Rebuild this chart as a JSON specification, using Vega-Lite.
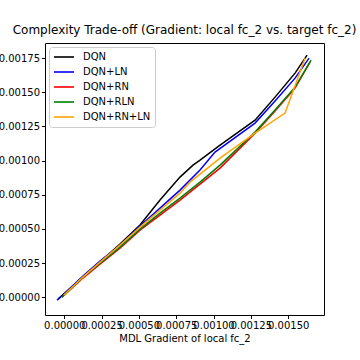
{
  "$schema": "https://vega.github.io/schema/vega-lite/v6.json",
  "width": 279,
  "height": 272,
  "autosize": {"type": "none"},
  "padding": {"left": 45, "top": 43, "right": 36, "bottom": 45},
  "background": "white",
  "title": {"text": "Complexity Trade-off (Gradient: local fc_2 vs. target fc_2)", "font": "DejaVu Sans", "fontSize": 12, "fontWeight": "normal", "color": "black", "offset": 6, "anchor": "middle"},
  "config": {
    "view": {"stroke": "black", "strokeWidth": 1},
    "axis": {"grid": false, "domain": false, "tickColor": "black", "tickSize": 3.5, "labelFont": "DejaVu Sans", "labelFontSize": 10, "labelColor": "black", "titleFont": "DejaVu Sans", "titleFontSize": 10, "titleFontWeight": "normal", "titleColor": "black", "labelPadding": 2, "labelOverlap": false, "labelFlush": false}
  },
  "data": {"values": [
    {"s": "DQN", "x": -0.0000422, "y": -0.0000124},
    {"s": "DQN", "x": 0.0001253, "y": 0.0001484},
    {"s": "DQN", "x": 0.0002393, "y": 0.000258},
    {"s": "DQN", "x": 0.0003733, "y": 0.0003896},
    {"s": "DQN", "x": 0.0005073, "y": 0.0005285},
    {"s": "DQN", "x": 0.0006414, "y": 0.0007113},
    {"s": "DQN", "x": 0.0007754, "y": 0.0008794},
    {"s": "DQN", "x": 0.0008625, "y": 0.0009671},
    {"s": "DQN", "x": 0.0009095, "y": 0.0010037},
    {"s": "DQN", "x": 0.0010435, "y": 0.0011133},
    {"s": "DQN", "x": 0.0012781, "y": 0.001296},
    {"s": "DQN", "x": 0.0014121, "y": 0.0014642},
    {"s": "DQN", "x": 0.0015462, "y": 0.0016396},
    {"s": "DQN", "x": 0.0016266, "y": 0.0017712},
    {"s": "DQN+LN", "x": -0.0000489, "y": -0.0000197},
    {"s": "DQN+LN", "x": -0.0000300, "y": -0.0000050},
    {"s": "DQN+LN", "x": 0.0001253, "y": 0.0001557},
    {"s": "DQN+LN", "x": 0.0002393, "y": 0.0002654},
    {"s": "DQN+LN", "x": 0.0003733, "y": 0.0003823},
    {"s": "DQN+LN", "x": 0.0005073, "y": 0.0005212},
    {"s": "DQN+LN", "x": 0.0006414, "y": 0.0006528},
    {"s": "DQN+LN", "x": 0.0007754, "y": 0.0007844},
    {"s": "DQN+LN", "x": 0.0009095, "y": 0.0009306},
    {"s": "DQN+LN", "x": 0.00101, "y": 0.0010621},
    {"s": "DQN+LN", "x": 0.0012781, "y": 0.0012741},
    {"s": "DQN+LN", "x": 0.0014121, "y": 0.001435},
    {"s": "DQN+LN", "x": 0.0015462, "y": 0.0016031},
    {"s": "DQN+LN", "x": 0.00164, "y": 0.0017493},
    {"s": "DQN+RN", "x": -0.0000154, "y": 0.000002},
    {"s": "DQN+RN", "x": 0.0001253, "y": 0.0001411},
    {"s": "DQN+RN", "x": 0.0002393, "y": 0.0002434},
    {"s": "DQN+RN", "x": 0.0003733, "y": 0.0003604},
    {"s": "DQN+RN", "x": 0.0005073, "y": 0.000492},
    {"s": "DQN+RN", "x": 0.0006414, "y": 0.0006016},
    {"s": "DQN+RN", "x": 0.0007754, "y": 0.0007113},
    {"s": "DQN+RN", "x": 0.0009095, "y": 0.0008282},
    {"s": "DQN+RN", "x": 0.0010435, "y": 0.0009452},
    {"s": "DQN+RN", "x": 0.0012781, "y": 0.001201},
    {"s": "DQN+RN", "x": 0.0014121, "y": 0.0013619},
    {"s": "DQN+RN", "x": 0.0015462, "y": 0.00153},
    {"s": "DQN+RN", "x": 0.0016467, "y": 0.0017201},
    {"s": "DQN+RLN", "x": -0.0000154, "y": 0.000002},
    {"s": "DQN+RLN", "x": 0.0001253, "y": 0.0001484},
    {"s": "DQN+RLN", "x": 0.0002393, "y": 0.0002507},
    {"s": "DQN+RLN", "x": 0.0003733, "y": 0.0003677},
    {"s": "DQN+RLN", "x": 0.0005073, "y": 0.0004993},
    {"s": "DQN+RLN", "x": 0.0006414, "y": 0.0006162},
    {"s": "DQN+RLN", "x": 0.0007754, "y": 0.0007259},
    {"s": "DQN+RLN", "x": 0.0009095, "y": 0.0008429},
    {"s": "DQN+RLN", "x": 0.0010435, "y": 0.0009671},
    {"s": "DQN+RLN", "x": 0.0012781, "y": 0.0012084},
    {"s": "DQN+RLN", "x": 0.0014121, "y": 0.0013692},
    {"s": "DQN+RLN", "x": 0.0015462, "y": 0.0015373},
    {"s": "DQN+RLN", "x": 0.0016534, "y": 0.0017346},
    {"s": "DQN+RN+LN", "x": -0.000002, "y": 0.0000168},
    {"s": "DQN+RN+LN", "x": 0.0001253, "y": 0.0001484},
    {"s": "DQN+RN+LN", "x": 0.0002393, "y": 0.000258},
    {"s": "DQN+RN+LN", "x": 0.0003733, "y": 0.0003823},
    {"s": "DQN+RN+LN", "x": 0.0005073, "y": 0.0005139},
    {"s": "DQN+RN+LN", "x": 0.0006414, "y": 0.0006382},
    {"s": "DQN+RN+LN", "x": 0.0007754, "y": 0.0007625},
    {"s": "DQN+RN+LN", "x": 0.0008425, "y": 0.0008429},
    {"s": "DQN+RN+LN", "x": 0.0010435, "y": 0.0010183},
    {"s": "DQN+RN+LN", "x": 0.0012781, "y": 0.001201},
    {"s": "DQN+RN+LN", "x": 0.0014792, "y": 0.0013473},
    {"s": "DQN+RN+LN", "x": 0.0016132, "y": 0.0017493}
  ]},
  "mark": {"type": "line", "strokeWidth": 1.5, "clip": true},
  "encoding": {
    "x": {"field": "x", "type": "quantitative", "title": "MDL Gradient of local fc_2",
      "scale": {"domain": [-0.000129, 0.00174], "nice": false, "zero": false},
      "axis": {"values": [0, 0.00025, 0.0005, 0.00075, 0.001, 0.00125, 0.0015], "format": ".5f", "titlePadding": 3}},
    "y": {"field": "y", "type": "quantitative", "title": null,
      "scale": {"domain": [-0.000129, 0.00186], "nice": false, "zero": false},
      "axis": {"values": [0, 0.00025, 0.0005, 0.00075, 0.001, 0.00125, 0.0015, 0.00175], "format": ".5f"}},
    "color": {"field": "s", "type": "nominal",
      "scale": {"domain": ["DQN", "DQN+LN", "DQN+RN", "DQN+RLN", "DQN+RN+LN"], "range": ["black", "blue", "red", "green", "orange"]},
      "legend": {"title": null, "orient": "top-left", "offset": 4, "padding": 4, "strokeColor": "#cccccc", "fillColor": "white", "cornerRadius": 3, "symbolType": "stroke", "symbolSize": 400, "clipHeight": 12, "symbolStrokeWidth": 2, "symbolOpacity": 0.8, "labelFont": "DejaVu Sans", "labelFontSize": 10, "labelColor": "black", "rowPadding": 3, "labelOffset": 8}}
  }
}
